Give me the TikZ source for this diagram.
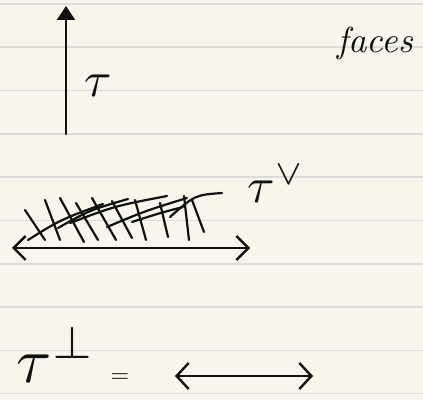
\documentclass[tikz,border=0pt]{standalone}
\usepackage{amsmath,amssymb}
\usepackage{graphicx}
\usepackage{xcolor}
\usepackage{tikz}
\usetikzlibrary{arrows.meta, positioning}
\definecolor{npaper}{HTML}{F8F6EB}
\definecolor{nrule}{HTML}{DCDCD8}
\definecolor{nink}{HTML}{111111}

\begin{document}
\begin{tikzpicture}[
  x=0.5pt, y=-0.5pt,
  ink/.style={draw=nink, line width=1.2pt, line cap=round, line join=round},
  hatch/.style={draw=nink, line width=1.1pt, line cap=round},
  lbl/.style={inner sep=0pt, text=nink},
]
  % paper
  \fill[npaper] (0,0) rectangle (423,400);
  \useasboundingbox (0,0) rectangle (423,400);
  \foreach \k in {0,...,9}
    \draw[nrule, line width=0.8pt] (0,4+43.3*\k) -- (423,4+43.3*\k);

  % the cone tau
  \coordinate (up0) at (66,134);
  \coordinate (up1) at (66,6);
  \draw[ink, -{Triangle[length=7pt, width=9pt]}] (up0) -- (up1);
  \node[lbl] (tau) at (98,86) {\scalebox{2.5}{$\tau$}};

  \node[lbl] (faces) at (375,44) {\scalebox{1.8}{\itshape faces}};

  % dual cone: hatched half plane
  \foreach \a/\b/\c/\d in {25/210/45/240, 45/200/60/240, 60/198/84/242,
      76/203/98/240, 92/198/116/240, 112/201/132/238, 135/200/146/240,
      160/203/168/237, 184/196/189/240, 192/200/204/232}
    \draw[hatch] (\a,\b) -- (\c,\d);
  \draw[hatch] (28,240) .. controls (60,220) .. (103,204);
  \draw[hatch] (58,228) .. controls (90,210) .. (128,199);
  \draw[hatch] (70,223) .. controls (115,206) .. (167,196);
  \draw[hatch] (107,227) .. controls (145,211) .. (187,198);
  \draw[hatch] (132,222) .. controls (160,213) .. (183,207);
  \draw[hatch] (170,217) .. controls (195,195) .. (222,193);

  \coordinate (dual0) at (12,248);
  \coordinate (dual1) at (250,248);
  \draw[ink, {Straight Barb[length=6pt, width=12pt]}-{Straight Barb[length=6pt, width=12pt]}] (dual0) -- (dual1);
  \node[lbl] (tauvee) at (276,184) {\scalebox{2.5}{$\tau^{\vee}$}};

  % orthogonal space
  \node[lbl] (tauperp) at (56,355) {\scalebox{3.2}{$\tau^{\perp}$}};
  \node[lbl] (eq) at (120,378) {\scalebox{1.2}{$=$}};
  \coordinate (perp0) at (175,376);
  \coordinate (perp1) at (313,376);
  \draw[ink, {Straight Barb[length=6pt, width=13pt]}-{Straight Barb[length=6pt, width=13pt]}] (perp0) -- (perp1);
\end{tikzpicture}
\end{document}
